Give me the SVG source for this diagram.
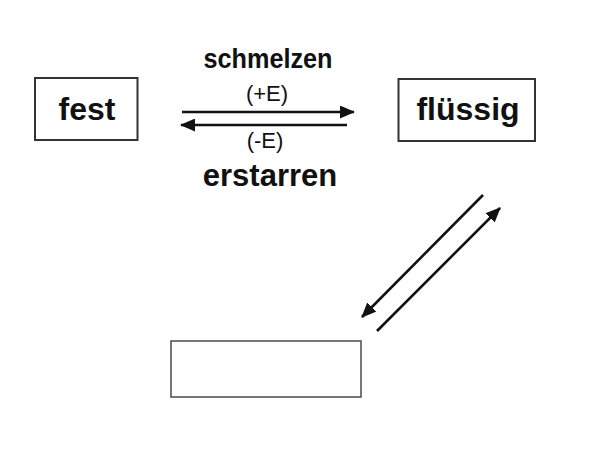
<svg xmlns="http://www.w3.org/2000/svg" width="600" height="450" viewBox="0 0 600 450">
<style>
.box{fill:#fff;stroke:#333;stroke-width:2}
.lbl{font-family:"Liberation Sans",Arial,sans-serif;font-weight:bold;fill:#111;text-anchor:middle}
.sm{font-family:"Liberation Sans",Arial,sans-serif;fill:#111;text-anchor:middle}
.conn{stroke:#111;stroke-width:2.6;fill:none;marker-end:url(#ah)}
</style>
<defs>
<marker id="ah" markerUnits="userSpaceOnUse" markerWidth="15" markerHeight="13" refX="14" refY="6.5" orient="auto">
<path d="M0,0 L15,6.5 L0,13 z" fill="#111"/>
</marker>
</defs>
<rect width="600" height="450" fill="#fff"/>
<g id="fest">
<rect class="box" x="35" y="78" width="102.5" height="62"/>
<text class="lbl" x="87" y="120" font-size="32">fest</text>
</g>
<g id="fluessig">
<rect class="box" x="398.5" y="79" width="136.5" height="62"/>
<text class="lbl" x="468" y="119.5" font-size="32">flüssig</text>
</g>
<g id="leer">
<rect x="171" y="341" width="190" height="56" fill="#fff" stroke="#555" stroke-width="1.6"/>
</g>
<g id="connectors">
<line class="conn" x1="182" y1="112" x2="354" y2="112"/>
<line class="conn" x1="347" y1="125" x2="181" y2="125"/>
<line class="conn" x1="483" y1="195" x2="362" y2="317"/>
<line class="conn" x1="377" y1="331" x2="500" y2="208"/>
</g>
<g id="labels">
<text class="lbl" x="268" y="68" font-size="27" textLength="129" lengthAdjust="spacingAndGlyphs">schmelzen</text>
<text class="sm" x="267" y="101" font-size="22">(+E)</text>
<text class="sm" x="265" y="148" font-size="22">(-E)</text>
<text class="lbl" x="270" y="186" font-size="31">erstarren</text>
</g>
</svg>
